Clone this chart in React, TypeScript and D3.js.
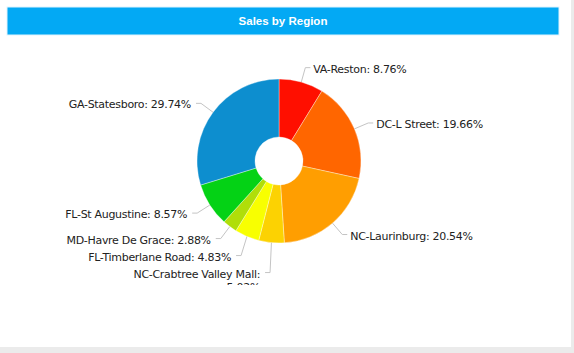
import React from "react";
import * as d3 from "d3";

const title = "Sales by Region";
const regions = [
  "VA-Reston",
  "DC-L Street",
  "NC-Laurinburg",
  "NC-Crabtree Valley Mall",
  "FL-Timberlane Road",
  "MD-Havre De Grace",
  "FL-St Augustine",
  "GA-Statesboro",
];
const shares = [8.76, 19.66, 20.54, 5.02, 4.83, 2.88, 8.57, 29.74];
const colors = ["#FF0F00", "#FF6600", "#FF9E01", "#FCD202", "#F8FF01", "#B0DE09", "#04D215", "#0D8ECF"];

const W = 574;
const H = 353;
const cx = 279;
const cy = 161;
const R = 82;
const R0 = 24;
const labelR = 97;
const gap = 17;
const FONT = "'DejaVu Sans', Verdana, sans-serif";

type Lbl = {
  i: number;
  side: number;
  ex: number;
  ey: number;
  sx: number;
  sy: number;
  y: number;
  lines: string[];
};

export default function App() {
  const pie = d3
    .pie<number>()
    .sort(null)
    .value((d) => d)
    .startAngle(0)
    .endAngle(2 * Math.PI);
  const arcs = pie(shares);
  const arc = d3.arc<d3.PieArcDatum<number>>().innerRadius(R0).outerRadius(R);

  const labels: Lbl[] = arcs.map((a, i) => {
    const m = (a.startAngle + a.endAngle) / 2;
    const text = `${regions[i]}: ${shares[i].toFixed(2)}%`;
    const lines = text.length > 27 ? [`${regions[i]}:`, `${shares[i].toFixed(2)}%`] : [text];
    const ey = cy - labelR * Math.cos(m);
    return {
      i,
      side: m < Math.PI ? 1 : -1,
      sx: cx + R * Math.sin(m),
      sy: cy - R * Math.cos(m),
      ex: cx + labelR * Math.sin(m),
      ey,
      y: ey,
      lines,
    };
  });

  [1, -1].forEach((s) => {
    const group = labels.filter((l) => l.side === s).sort((a, b) => a.ey - b.ey);
    let last = -Infinity;
    group.forEach((l) => {
      l.y = Math.max(l.ey, last + gap);
      last = l.y + (l.lines.length - 1) * 13;
    });
  });

  return (
    <div style={{ position: "fixed", left: 0, top: 0, width: W, height: H }}>
      <svg width={W} height={H} style={{ display: "block" }}>
        <rect x={0} y={0} width={W} height={H} fill="#ffffff" />
        <rect x={571} y={0} width={3} height={H} fill="#ebebeb" />
        <rect x={0} y={347} width={W} height={6} fill="#ebebeb" />
        <rect x={7} y={7} width={552} height={28} fill="#03A9F4" stroke="#dff3fd" strokeWidth={1} />
        <text
          x={283}
          y={21}
          textAnchor="middle"
          dominantBaseline="central"
          fill="#ffffff"
          fontFamily="'Liberation Sans', Arial, sans-serif"
          fontWeight="bold"
          fontSize={11.5}
        >
          {title}
        </text>
        <defs>
          <clipPath id="chartClip">
            <rect x={0} y={37} width={571} height={248} />
          </clipPath>
        </defs>
        <g clipPath="url(#chartClip)">
          <g transform={`translate(${cx},${cy})`}>
            {arcs.map((a, i) => (
              <path
                key={regions[i]}
                d={arc(a) || ""}
                fill={colors[i]}
                stroke="#ffffff"
                strokeWidth={0.6}
                strokeOpacity={0.6}
              />
            ))}
          </g>
          {labels.map((l) => {
            const hx = l.ex + l.side * 5;
            const tx = l.side > 0 ? hx + 3 : hx - 5;
            return (
              <g key={`lbl-${l.i}`}>
                <polyline
                  points={`${l.sx},${l.sy} ${l.ex},${l.y} ${hx},${l.y}`}
                  fill="none"
                  stroke="#c4c4c4"
                  strokeWidth={1}
                />
                {l.lines.map((t, k) => (
                  <text
                    key={k}
                    x={tx}
                    y={l.y + 1.5 + k * 13}
                    textAnchor={l.side > 0 ? "start" : "end"}
                    dominantBaseline="central"
                    fill="#222222"
                    fontFamily={FONT}
                    fontSize={11}
                    letterSpacing={-0.3}
                  >
                    {t}
                  </text>
                ))}
              </g>
            );
          })}
        </g>
      </svg>
    </div>
  );
}
